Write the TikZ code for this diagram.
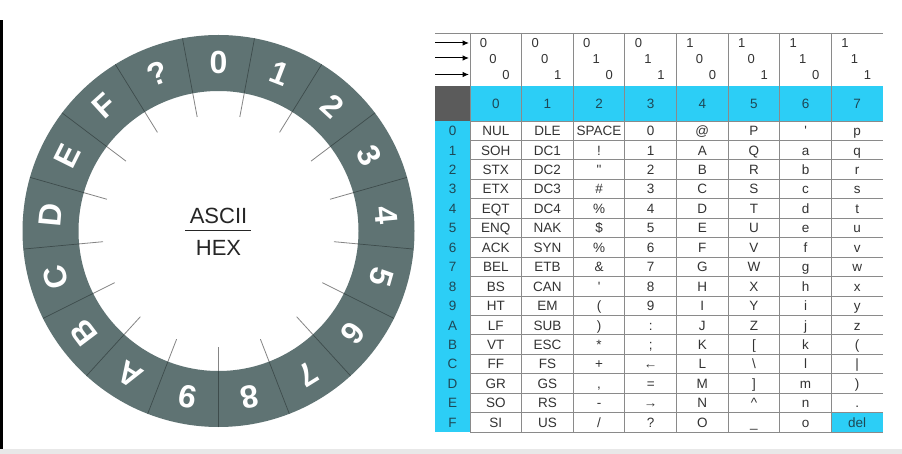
\documentclass[tikz,border=0pt]{standalone}
\usepackage{fontspec}
\setmainfont{Liberation Sans}
\usetikzlibrary{arrows.meta}
\definecolor{ringc}{HTML}{5F7373}
\definecolor{sepc}{HTML}{3E4C4C}
\definecolor{tickc}{HTML}{858585}
\definecolor{cyanc}{HTML}{2CCEF6}
\definecolor{darksq}{HTML}{5B5B5B}
\definecolor{gridc}{HTML}{8A8A8A}
\definecolor{txt}{HTML}{333333}
\definecolor{hdrtxt}{HTML}{1E4856}
\tikzset{
  wl/.style={font=\fontsize{32}{34}\selectfont\bfseries, text=white, inner sep=0pt},
  cell/.style={font=\fontsize{13.5}{15}\selectfont, text=txt, anchor=base, inner sep=0pt},
  hcell/.style={font=\fontsize{13.5}{15}\selectfont, text=hdrtxt, anchor=base, inner sep=0pt},
  bit/.style={font=\fontsize{13}{15}\selectfont, text=txt, inner sep=0pt},
  grid/.style={draw=gridc, line width=0.8pt},
  arr/.style={-{Latex[length=6.5pt,width=5.5pt]}, line width=1pt, black},
  center/.style={font=\fontsize{22}{24}\selectfont, text=black!85, anchor=base, inner sep=0pt}
}
\newcommand\colx[1]{470+(#1+0.5)*51.625}
\newcommand\hexlab[1]{\ifcase#1 0\or 1\or 2\or 3\or 4\or 5\or 6\or 7\or 8\or 9\or A\or B\or C\or D\or E\or F\fi}
\newcommand\tabrow[9]{%
  \node[hcell] (rh#1) at (452.5, {121+(#1+0.5)*19.44+4.9}) {\hexlab{#1}};
  \node[cell] (c#1a) at ({\colx{0}}, {121+(#1+0.5)*19.44+4.9}) {#2};
  \node[cell] (c#1b) at ({\colx{1}}, {121+(#1+0.5)*19.44+4.9}) {#3};
  \node[cell] (c#1c) at ({\colx{2}}, {121+(#1+0.5)*19.44+4.9}) {#4};
  \node[cell] (c#1d) at ({\colx{3}}, {121+(#1+0.5)*19.44+4.9}) {#5};
  \node[cell] (c#1e) at ({\colx{4}}, {121+(#1+0.5)*19.44+4.9}) {#6};
  \node[cell] (c#1f) at ({\colx{5}}, {121+(#1+0.5)*19.44+4.9}) {#7};
  \node[cell] (c#1g) at ({\colx{6}}, {121+(#1+0.5)*19.44+4.9}) {#8};
  \node[cell] (c#1h) at ({\colx{7}}, {121+(#1+0.5)*19.44+4.9}) {#9};
}
\begin{document}
\begin{tikzpicture}[x=1pt,y=-1pt]
\useasboundingbox (0,0) rectangle (902,454);
\fill[white] (0,0) rectangle (902,454);
% page edges
\fill[black] (0,20) rectangle (3,449);
\fill[black!9] (0,449) rectangle (902,454);

% ---------- wheel ----------
\begin{scope}[shift={(218.5,231)}, yscale=-1]
  \fill[ringc, even odd rule] (0,0) circle[radius=196] (0,0) circle[radius=140];
  \foreach \k in {0,...,16} {
    \draw[tickc, line width=0.8pt] ({270+\k*360/17}:116) -- ({270+\k*360/17}:140);
    \draw[sepc, line width=0.7pt] ({270+\k*360/17}:140) -- ({270+\k*360/17}:196);
  }
  \foreach \t [count=\k from 0] in {0,1,2,3,4,5,6,7,8,9,A,B,C,D,E,F,?} {
    \node[wl, rotate={-\k*360/17}] (w\k) at ({90-\k*360/17}:169) {\t};
  }
\end{scope}
\node[center] (ascii) at (218.5,224) {ASCII};
\draw[black!85, line width=1.6pt] (185,230.5) -- (251,230.5);
\node[center] (hex) at (218.5,256) {HEX};

% ---------- table fills ----------
\fill[darksq] (435,86) rectangle (470,121);
\fill[cyanc] (470,86) rectangle (883,121);
\fill[cyanc] (435,121) rectangle (470,432);
\fill[cyanc] (831.4,{121+15*19.44}) rectangle (883,432);

% grid
\draw[grid] (435,33) -- (883,33);
\foreach \i in {0,...,7} { \draw[grid] ({470+\i*51.625},33) -- ({470+\i*51.625},432); }
\foreach \j in {0,...,16} { \draw[grid] (470,{121+\j*19.44}) -- (883,{121+\j*19.44}); }

% arrows in the corner
\coordinate (a1s) at (435,43); \coordinate (a1e) at (469,43);
\coordinate (a2s) at (435,58); \coordinate (a2e) at (469,58);
\coordinate (a3s) at (435,74.5); \coordinate (a3e) at (469,74.5);
\draw[arr] (a1s) -- (a1e);
\draw[arr] (a2s) -- (a2e);
\draw[arr] (a3s) -- (a3e);

% bit patterns
\foreach \a/\b/\c [count=\i from 0] in {0/0/0,0/0/1,0/1/0,0/1/1,1/0/0,1/0/1,1/1/0,1/1/1} {
  \node[bit] (bt\i) at ({470+\i*51.625+13.5}, 43.5) {\a};
  \node[bit] (bm\i) at ({470+\i*51.625+23}, 59) {\b};
  \node[bit] (bb\i) at ({470+\i*51.625+36}, 75.5) {\c};
  \node[hcell] (hd\i) at ({\colx{\i}}, 108.5) {\i};
}

% rows
\tabrow{0}{NUL}{DLE}{SPACE}{0}{@}{P}{\textquotesingle}{p}
\tabrow{1}{SOH}{DC1}{!}{1}{A}{Q}{a}{q}
\tabrow{2}{STX}{DC2}{\textquotedbl}{2}{B}{R}{b}{r}
\tabrow{3}{ETX}{DC3}{\#}{3}{C}{S}{c}{s}
\tabrow{4}{EQT}{DC4}{\%}{4}{D}{T}{d}{t}
\tabrow{5}{ENQ}{NAK}{\$}{5}{E}{U}{e}{u}
\tabrow{6}{ACK}{SYN}{\%}{6}{F}{V}{f}{v}
\tabrow{7}{BEL}{ETB}{\&}{7}{G}{W}{g}{w}
\tabrow{8}{BS}{CAN}{\textquotesingle}{8}{H}{X}{h}{x}
\tabrow{9}{HT}{EM}{(}{9}{I}{Y}{i}{y}
\tabrow{10}{LF}{SUB}{)}{:}{J}{Z}{j}{z}
\tabrow{11}{VT}{ESC}{*}{;}{K}{[}{k}{(}
\tabrow{12}{FF}{FS}{+}{\char"2190}{L}{\textbackslash}{l}{|}
\tabrow{13}{GR}{GS}{,}{=}{M}{]}{m}{)}
\tabrow{14}{SO}{RS}{-}{\char"2192}{N}{\textasciicircum}{n}{.}
\tabrow{15}{SI}{US}{/}{?}{O}{\_}{o}{\textcolor{hdrtxt}{del}}
\end{tikzpicture}
\end{document}
